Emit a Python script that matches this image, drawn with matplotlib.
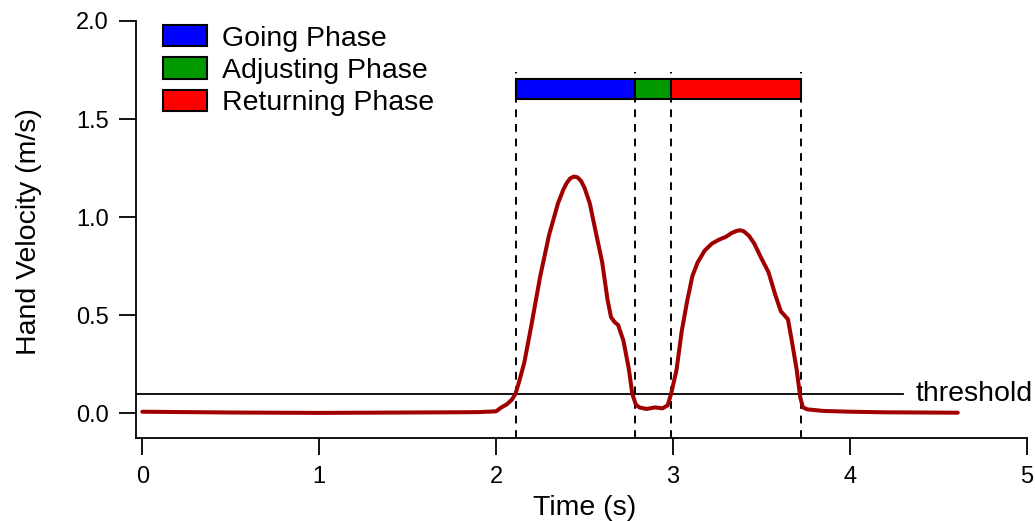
import matplotlib
matplotlib.use("Agg")
import matplotlib.pyplot as plt
from matplotlib.patches import Patch, Rectangle

# ---- data ----
time_s = [0.0, 0.25, 0.5, 0.75, 1.0, 1.25, 1.5, 1.75, 1.9, 2.0, 2.03, 2.06, 2.09, 2.11,
          2.13, 2.16, 2.20, 2.25, 2.30, 2.35, 2.38, 2.40, 2.42, 2.44, 2.46, 2.48, 2.50,
          2.53, 2.56, 2.60, 2.63, 2.65, 2.67, 2.69, 2.72, 2.75, 2.77, 2.79, 2.81, 2.85,
          2.90, 2.94, 2.97, 2.99, 3.02, 3.05, 3.08, 3.11, 3.14, 3.18, 3.22, 3.26, 3.30,
          3.33, 3.36, 3.38, 3.40, 3.43, 3.46, 3.50, 3.54, 3.58, 3.61, 3.63, 3.65, 3.67,
          3.70, 3.72, 3.735, 3.76, 3.85, 4.0, 4.2, 4.4, 4.61]
velocity = [0.008, 0.006, 0.004, 0.003, 0.002, 0.003, 0.004, 0.005, 0.006, 0.010, 0.030,
            0.045, 0.070, 0.100, 0.160, 0.260, 0.450, 0.700, 0.910, 1.070, 1.140, 1.175,
            1.198, 1.207, 1.203, 1.185, 1.150, 1.070, 0.940, 0.770, 0.580, 0.490, 0.465,
            0.450, 0.370, 0.230, 0.100, 0.045, 0.030, 0.022, 0.030, 0.025, 0.040, 0.100,
            0.220, 0.420, 0.570, 0.700, 0.770, 0.830, 0.865, 0.885, 0.900, 0.918, 0.930,
            0.933, 0.928, 0.905, 0.865, 0.790, 0.720, 0.600, 0.520, 0.500, 0.480, 0.380,
            0.220, 0.080, 0.030, 0.020, 0.012, 0.008, 0.005, 0.004, 0.003]
phase_bounds = [2.114, 2.783, 2.987, 3.726]
phase_names = ["Going Phase", "Adjusting Phase", "Returning Phase"]
phase_colors = ["#0000ff", "#009900", "#ff0000"]
threshold = 0.1
x_ticks = [0, 1, 2, 3, 4, 5]
y_ticks = [0.0, 0.5, 1.0, 1.5, 2.0]

plt.rcParams['font.family'] = ['Liberation Sans', 'DejaVu Sans']

fig = plt.figure(figsize=(10.35, 5.21), dpi=100)
ax = fig.add_axes([136/1035, 83/521, (1026.7-136)/1035, (438-21)/521])
ax.set_xlim(-0.0356, 5)
ax.set_ylim(-0.126, 2.0)

for s in ['top', 'right']:
    ax.spines[s].set_visible(False)
for s in ['left', 'bottom']:
    ax.spines[s].set_linewidth(1.3)

ax.set_xticks(x_ticks)
ax.set_xticklabels([str(t) for t in x_ticks])
ax.set_yticks(y_ticks)
ax.set_yticklabels([f"{v:.1f}" for v in y_ticks])
ax.tick_params(axis='both', direction='out', length=12.5, width=1.3, labelsize=17)
ax.tick_params(axis='x', pad=8)
ax.tick_params(axis='y', pad=7)

ax.set_xlabel("Time (s)", fontsize=20.5)
ax.set_ylabel("Hand Velocity (m/s)", fontsize=20.5)
ax.xaxis.set_label_coords(0.504, -0.137)
ax.yaxis.set_label_coords(-0.106, 0.495)

# threshold
ax.plot([-0.0356, 4.30], [threshold, threshold], color='black', lw=1.3, zorder=2)
ax.text(4.374, threshold, "threshold", fontsize=20.5, va='center', ha='left')

# dashed phase boundaries
for b in phase_bounds:
    ax.plot([b, b], [-0.126, 1.74], color='black', lw=1.4, ls=(0, (4, 3.5)), zorder=2)

# phase bars
for i in range(3):
    ax.add_patch(Rectangle((phase_bounds[i], 1.602), phase_bounds[i+1]-phase_bounds[i], 0.103,
                           facecolor=phase_colors[i], edgecolor='black', lw=1.5, zorder=3))

# velocity trace
ax.plot(time_s, velocity, color='#a00000', lw=2.9, solid_joinstyle='round',
        solid_capstyle='round', zorder=4)

handles = [Patch(facecolor=c, edgecolor='black', lw=1.5) for c in phase_colors]
leg = ax.legend(handles, phase_names, loc='upper left', bbox_to_anchor=(163/1035, 1 - 25/521),
                bbox_transform=fig.transFigure, frameon=False, fontsize=20.5,
                handlelength=1.54, handleheight=0.78, handletextpad=0.53, labelspacing=0.2,
                borderpad=0, borderaxespad=0)

fig.savefig("out.png", dpi=100)
